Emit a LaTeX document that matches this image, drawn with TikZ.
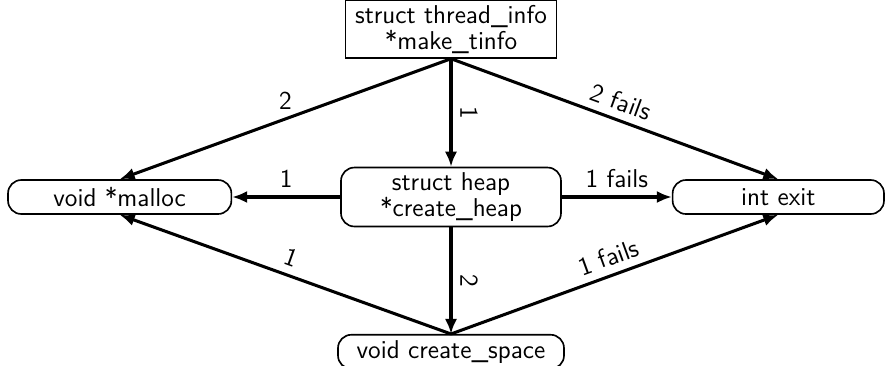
\documentclass[tikz,border=0pt]{standalone}
\usepackage{tikz}
\usetikzlibrary{positioning, arrows.meta}
\tikzset{
  func/.style={rectangle, rounded corners=2mm, draw, line width=0.7pt, fill=white,
    minimum height=5.1mm, align=center, inner sep=2pt,
    font=\sffamily\fontsize{11}{10}\selectfont},
  entry/.style={func, sharp corners, minimum height=7.5mm},
  call/.style={-{Latex[length=6.4pt, width=5.2pt]}, line width=1.3pt},
  lbl/.style={font=\sffamily\fontsize{11}{10}\selectfont, midway, above},
}

\begin{document}
\begin{tikzpicture}
    \useasboundingbox (-6.765,-2.52) rectangle (6.555,2.955);
    % callee in the middle
    \node[func, minimum width=33mm, minimum height=8.5mm] (heap) at (0,0) {struct heap\\*create\_heap};
    % caller on top
    \node[entry, minimum width=31.7mm, above=16.2mm of heap] (tinfo) {struct thread\_info\\*make\_tinfo};
    % the leaves
    \node[func, minimum width=33.5mm, left=16.2mm of heap] (malloc) {void *malloc};
    \node[func, minimum width=31.7mm, right=16.5mm of heap] (exit) {int exit};
    \node[func, minimum width=33.9mm, below=16mm of heap] (space) {void create\_space};
    \draw[call] (tinfo.south) -- (heap.north) node[lbl, sloped]{1};
    \draw[call] (tinfo.south) -- (malloc.north) node[lbl]{2};
    \draw[call] (tinfo.south) -- (exit.north) node[lbl, sloped]{2 fails};
    \draw[call] (heap.west) -- (malloc.east) node[lbl]{1};
    \draw[call] (heap.east) -- (exit.west) node[lbl]{1 fails};
    \draw[call] (heap.south) -- (space.north) node[lbl, sloped]{2};
    \draw[call] (space.north) -- (malloc.south) node[lbl, sloped]{1};
    \draw[call] (space.north) -- (exit.south) node[lbl, sloped]{1 fails};
\end{tikzpicture}
\end{document}
